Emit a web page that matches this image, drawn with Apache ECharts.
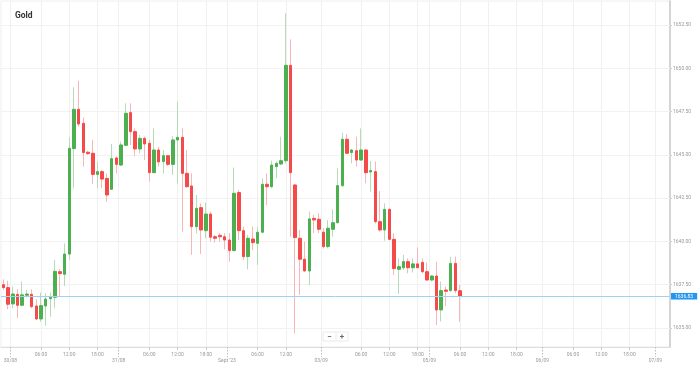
<!DOCTYPE html>
<html>
<head>
<meta charset="utf-8">
<script src="https://cdn.jsdelivr.net/npm/echarts@6/dist/echarts.min.js"></script>
<style>html,body{margin:0;padding:0;background:#fff}#c{width:698px;height:366px}</style>
</head>
<body>
<div id="c"></div>
<script>
// Hourly Gold candles (index = hourly slot on the trading timeline)
const open = [
1637.50,1637.33,1636.39,1636.94,1636.31,1636.89,1636.94,1636.27,1635.52,1636.27,
1636.69,1636.77,1638.25,1638.10,1639.27,1645.36,1647.63,1646.82,1645.15,1645.09,
1643.87,1644.03,1643.64,1643.01,1644.82,1644.41,1645.55,1647.44,1646.34,1645.34,
1645.95,1645.67,1643.97,1645.28,1644.61,1644.95,1644.45,1645.86,1646.01,1643.93,
1643.20,1640.85,1641.95,1640.62,1641.58,1640.27,1640.35,1640.27,1640.08,1639.47,
1642.82,1640.62,1639.12,1640.14,1639.89,1640.53,1643.30,1643.16,1644.32,1644.47,
1644.66,1650.17,1643.26,1640.18,1638.97,1638.29,1641.33,1641.28,1640.53,1639.70,
1640.70,1641.08,1643.22,1645.90,1645.13,1645.24,1644.70,1645.28,1644.01,1644.03,
1641.14,1640.66,1641.85,1640.12,1638.39,1638.48,1638.83,1638.48,1638.70,1638.79,
1638.25,1637.77,1638.00,1636.04,1637.19,1637.16,1638.73,1637.15];
const close = [
1637.33,1636.37,1636.96,1636.31,1636.91,1636.96,1636.23,1635.52,1636.29,1636.67,
1636.77,1638.27,1638.14,1639.27,1645.38,1647.63,1646.78,1645.13,1645.07,1643.87,
1644.03,1643.60,1642.68,1644.78,1644.45,1645.57,1647.40,1646.34,1645.34,1645.95,
1645.63,1643.97,1645.28,1644.59,1644.95,1644.45,1645.86,1646.01,1643.93,1643.16,
1640.85,1641.91,1640.66,1641.58,1640.24,1640.18,1640.27,1640.08,1639.47,1642.78,
1640.62,1639.12,1640.18,1639.93,1640.53,1643.30,1643.16,1644.41,1644.51,1644.66,
1650.17,1643.97,1640.22,1638.97,1638.29,1641.30,1641.24,1640.70,1639.70,1640.76,
1641.08,1643.22,1645.90,1645.09,1645.28,1644.70,1645.28,1643.97,1644.09,1641.14,
1640.66,1641.85,1640.12,1638.43,1638.54,1638.83,1638.48,1638.70,1638.48,1638.25,
1637.77,1638.00,1636.04,1637.16,1637.12,1638.73,1637.16,1636.83];
const low = [
1637.19,1636.08,1636.14,1635.56,1636.27,1636.77,1636.14,1635.46,1635.36,1635.13,
1635.65,1636.14,1636.85,1637.42,1638.93,1643.07,1646.63,1644.32,1644.99,1643.32,
1643.07,1643.07,1642.30,1642.97,1643.93,1644.36,1645.51,1645.57,1644.93,1645.09,
1644.70,1643.45,1643.93,1644.32,1643.93,1644.36,1643.84,1643.35,1640.56,1643.10,
1639.22,1640.47,1639.27,1640.18,1639.99,1639.93,1639.99,1639.54,1638.83,1639.41,
1640.08,1638.93,1638.39,1639.50,1638.64,1640.47,1642.10,1643.07,1643.64,1644.41,
1644.51,1640.27,1634.69,1636.91,1638.25,1637.48,1640.47,1640.47,1639.60,1639.60,
1640.27,1641.04,1643.16,1645.05,1644.51,1644.32,1644.66,1643.36,1642.87,1641.04,
1640.56,1640.04,1640.08,1638.06,1636.96,1638.35,1638.16,1638.20,1638.45,1638.16,
1637.73,1637.68,1635.17,1635.37,1636.27,1637.10,1637.00,1635.36];
const high = [
1637.81,1637.73,1637.39,1637.23,1637.68,1637.19,1637.23,1636.65,1637.04,1637.00,
1637.04,1638.93,1638.39,1639.89,1646.01,1648.90,1649.28,1647.17,1645.24,1645.86,
1644.61,1644.12,1643.93,1645.63,1644.90,1645.76,1647.98,1647.98,1646.53,1646.15,
1646.05,1645.86,1646.53,1645.47,1645.28,1644.99,1646.09,1648.07,1646.53,1645.28,
1643.93,1642.68,1642.20,1642.24,1641.72,1640.37,1640.47,1640.47,1640.47,1644.26,
1642.97,1640.85,1640.37,1640.85,1640.85,1643.64,1643.93,1644.66,1644.61,1646.05,
1653.17,1651.67,1643.30,1640.66,1639.99,1641.72,1641.53,1641.62,1640.76,1641.24,
1641.85,1644.22,1646.28,1646.19,1645.34,1646.05,1646.53,1645.32,1644.65,1644.61,
1642.91,1642.20,1641.91,1640.47,1639.02,1639.22,1639.02,1639.02,1639.65,1639.02,
1638.77,1638.06,1638.83,1637.68,1637.39,1639.12,1639.12,1637.48];

// X-axis tick labels (positions in hourly slots)
const hourPos  = [8,14,20,31,37,43,54,60,76,82,88,97,103,109,121,127,133];
const hourText = ['06:00','12:00','18:00','06:00','12:00','18:00','06:00','12:00',
                  '06:00','12:00','18:00','06:00','12:00','18:00','06:00','12:00','18:00'];
const datePos  = [1.5,24.5,47.5,67.5,90.5,114.5,138.5];
const dateText = ['30/08','31/08',"Sept '23",'03/09','05/09','06/09','07/09'];
// Y-axis tick labels
const priceTicks = [1635,1637.5,1640,1642.5,1645,1647.5,1650,1652.5];

const X_MIN = -0.5, X_MAX = 141.6, Y_MIN = 1633.90, Y_MAX = 1653.886;

const wickData = open.map((o,i)=>[i,o,close[i],low[i],high[i]]);
const bodyData = open.map((o,i)=>[i,o,close[i],Math.min(o,close[i]),Math.max(o,close[i])]);
const lastClose = close[close.length-1];

const hourMap = {}; hourPos.forEach((p,i)=>hourMap[p.toFixed(1)] = hourText[i]);
const dateMap = {}; datePos.forEach((p,i)=>dateMap[p.toFixed(1)] = dateText[i]);

const FONT = 'Roboto';
const chart = echarts.init(document.getElementById('c'), null, {renderer:'canvas'});
chart.setOption({
  animation:false,
  backgroundColor:'#fff',
  title:{text:'Gold', left:10, top:6, textStyle:{fontSize:8.5, fontWeight:'bold', color:'#333', fontFamily:FONT}},
  grid:{left:1, right:28, top:1, bottom:19, show:true, borderColor:'#eee', borderWidth:1},
  xAxis:[
    {type:'value', min:X_MIN, max:X_MAX, position:'bottom', gridIndex:0,
     axisLine:{show:true, onZero:false, lineStyle:{color:'#ddd', width:1}},
     axisTick:{show:true, customValues:hourPos, length:3, lineStyle:{color:'#ccc'}},
     axisLabel:{show:true, customValues:hourPos, margin:5, fontSize:5, color:'#999', fontFamily:FONT,
       formatter:v=>hourMap[Number(v).toFixed(1)]||''},
     splitLine:{show:false}},
    {type:'value', min:X_MIN, max:X_MAX, position:'bottom', gridIndex:0,
     axisLine:{show:false, onZero:false},
     axisTick:{show:true, customValues:datePos, length:10, lineStyle:{color:'#bbb', type:[1.5,1.5]}},
     axisLabel:{show:true, customValues:datePos, margin:11, fontSize:5, color:'#999', fontFamily:FONT,
       formatter:v=>dateMap[Number(v).toFixed(1)]||''},
     splitLine:{show:false}},
    {type:'value', min:X_MIN, max:X_MAX, position:'bottom', gridIndex:0,
     axisLine:{show:false, onZero:false}, axisLabel:{show:false}, splitLine:{show:false},
     axisTick:{show:true, inside:true, length:346, customValues:hourPos.concat(datePos), lineStyle:{color:'#f0f0f0', width:1}}}
  ],
  yAxis:[
    {type:'value', min:Y_MIN, max:Y_MAX, position:'right', scale:true,
     axisLine:{show:true, onZero:false, lineStyle:{color:'#ccc', width:1.6}},
     axisTick:{show:true, customValues:priceTicks, length:2, lineStyle:{color:'#ccc'}},
     axisLabel:{show:true, customValues:priceTicks, margin:3, fontSize:5, color:'#999', fontFamily:FONT,
       formatter:v=>Number(v).toFixed(2)},
     splitLine:{show:false}},
    {type:'value', min:Y_MIN, max:Y_MAX, position:'right', scale:true,
     axisLine:{show:false, onZero:false}, axisLabel:{show:false}, splitLine:{show:false},
     axisTick:{show:true, inside:true, length:669, customValues:priceTicks, lineStyle:{color:'#f2f2f2', width:1}}}
  ],
  series:[
    {type:'candlestick', name:'wick', xAxisIndex:0, yAxisIndex:0, data:wickData, barWidth:1, large:false,
     encode:{x:0, y:[1,2,3,4]},
     itemStyle:{color:'#b5dcb5', color0:'#f9b6b6', borderColor:'#b5dcb5', borderColor0:'#f9b6b6', borderWidth:1},
     silent:true},
    {type:'candlestick', name:'Gold', xAxisIndex:0, yAxisIndex:0, data:bodyData, barWidth:3, large:false,
     encode:{x:0, y:[1,2,3,4]},
     itemStyle:{color:'#4caf50', color0:'#f44a4a', borderColor:'#4caf50', borderColor0:'#f44a4a', borderWidth:1},
     markLine:{silent:true, symbol:['none','none'],
       lineStyle:{color:'#9dd2f6', width:1, type:'solid'},
       label:{show:true, position:'end', distance:1, formatter:p=>Number(p.value).toFixed(2),
         backgroundColor:'#2196f3', color:'#fff', fontSize:5, fontFamily:FONT, padding:[1,4,0.5,4]},
       data:[{yAxis:lastClose}]}}
  ],
  graphic:[
    {type:'rect', shape:{x:323, y:332, width:25, height:9}, style:{fill:'#fff', stroke:'#eaeaea', lineWidth:1}, z:100},
    {type:'line', shape:{x1:336, y1:333, x2:336, y2:340}, style:{stroke:'#eaeaea', lineWidth:1}, z:101},
    {type:'text', x:329.5, y:336.5, style:{text:'−', fontSize:8, fontWeight:'bold', fill:'#666', align:'center', verticalAlign:'middle', fontFamily:FONT}, z:101},
    {type:'text', x:342, y:336.5, style:{text:'+', fontSize:8, fontWeight:'bold', fill:'#666', align:'center', verticalAlign:'middle', fontFamily:FONT}, z:101}
  ]
});
</script>
</body>
</html>
